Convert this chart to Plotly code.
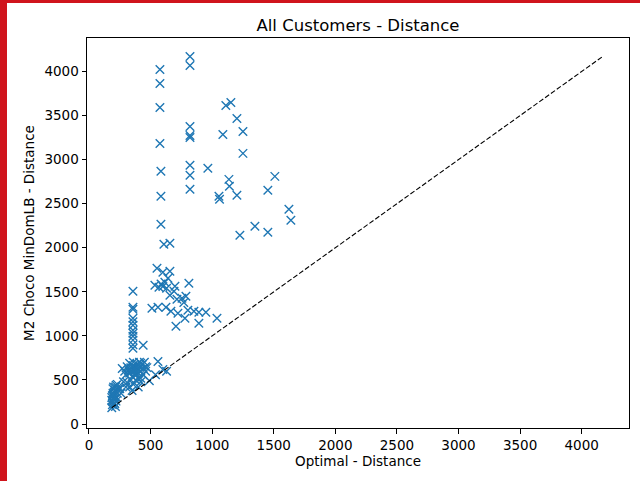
import plotly.graph_objects as go

# Optimal distance (x) vs M2 Choco MinDomLB distance (y)
opt_dist = [
    # lower-left cluster
    185, 190, 195, 200, 185, 190, 200, 205, 210, 195, 215, 220, 190, 210, 225,
    230, 200, 185, 215, 205, 195, 220, 240, 230, 210, 195, 205,
    # cluster 250-560
    270, 290, 300, 310, 320, 330, 340, 350, 360, 370, 380, 390, 400, 410, 420,
    430, 440, 450, 360, 330, 380, 350, 400, 420, 460, 470, 310, 330, 350, 360,
    380, 400, 420, 440, 490, 540, 560, 300, 280, 250, 260, 420, 400, 460, 340,
    370, 390, 355, 345, 410, 630, 600,
    # column at ~357
    357, 357, 357, 357, 357, 357, 357, 357, 357, 357, 357, 357, 440,
    # middle cluster
    608, 657, 552, 600, 657, 641, 616, 535, 568, 811, 698, 690, 657, 714, 755,
    787, 511, 560, 625, 665, 722, 803, 852, 892, 949, 706, 892, 1039, 779, 600,
    585, 630, 770,
    # upper points
    576, 576, 576, 576, 820, 820, 584, 584, 584, 820, 820, 820, 820, 820, 820,
    965, 1087, 1111, 1152, 1201, 1250, 1250, 1136, 1140, 1055, 1060, 1201,
    1225, 1347, 1452, 1452, 1509, 1623, 1639,
]
m2_dist = [
    185, 220, 250, 280, 300, 320, 340, 360, 380, 400, 420, 440, 260, 230, 300,
    350, 420, 270, 200, 310, 350, 260, 400, 450, 290, 330, 240,
    630, 600, 560, 650, 610, 580, 640, 620, 660, 600, 640, 680, 620, 650, 600,
    670, 630, 700, 700, 690, 560, 540, 580, 690, 650, 640, 470, 420, 380, 450,
    500, 520, 520, 560, 490, 560, 710, 420, 480, 400, 350, 480, 420, 600, 500,
    620, 590, 660, 600, 700, 600, 620,
    1507, 1326, 1303, 1201, 1160, 1122, 1065, 1031, 997, 952, 900, 861, 895,
    2040, 2051, 1768, 1722, 1734, 1654, 1609, 1575, 1552, 1598, 1564, 1507,
    1462, 1416, 1428, 1450, 1314, 1326, 1326, 1280, 1258, 1292, 1280, 1269,
    1269, 1110, 1144, 1201, 1201, 1560, 1590, 1540, 1380,
    4023, 3864, 3592, 3184, 4170, 4068, 2867, 2584, 2266, 3377, 3275, 3252,
    2935, 2822, 2663, 2901, 3286, 3615, 3649, 3467, 3320, 3071, 2776, 2697,
    2584, 2550, 2595, 2142, 2244, 2176, 2652, 2810, 2436, 2312,
]

line_lo = min(min(opt_dist), min(m2_dist))
line_hi = max(max(opt_dist), max(m2_dist))

title = "All Customers - Distance"
x_label = "Optimal - Distance"
y_label = "M2 Choco MinDomLB - Distance"
tick_vals = [0, 500, 1000, 1500, 2000, 2500, 3000, 3500, 4000]

FONT = "DejaVu Sans"
W, H = 640, 481
L, R, T, B = 87, 11, 38, 53
pw, ph = W - L - R, H - T - B

fig = go.Figure()
fig.add_trace(go.Scatter(
    x=opt_dist, y=m2_dist, mode="markers",
    marker=dict(symbol="x-thin", size=8.5, color="#1f77b4",
                line=dict(color="#1f77b4", width=1.4)),
    showlegend=False, hoverinfo="skip"))
fig.add_trace(go.Scatter(
    x=[line_lo, line_hi], y=[line_lo, line_hi], mode="lines",
    line=dict(color="black", width=1.1, dash="5px,2.2px"),
    showlegend=False, hoverinfo="skip"))

axis_common = dict(
    showgrid=False, zeroline=False, showline=True, linecolor="black",
    linewidth=1, mirror=True, ticks="outside", ticklen=4.5, tickwidth=1,
    tickcolor="black", tickvals=tick_vals,
    tickfont=dict(family=FONT, size=13.5, color="black"),
)

fig.update_layout(
    width=W, height=H,
    margin=dict(l=L, r=R, t=T, b=B, pad=0),
    paper_bgcolor="white", plot_bgcolor="white",
    font=dict(family=FONT, color="black"),
    title=dict(text=title, x=(L + pw / 2) / W, xanchor="center",
               y=1 - 25 / H, yanchor="middle", yref="container",
               font=dict(family=FONT, size=16.5, color="black")),
    xaxis=dict(range=[-16, 4384],
               title=dict(text=x_label, standoff=4,
                          font=dict(family=FONT, size=13.5, color="black")),
               **axis_common),
    yaxis=dict(range=[-45, 4380],
               title=dict(text=y_label, standoff=6,
                          font=dict(family=FONT, size=13.5, color="black")),
               **axis_common),
)

# red frame strips on the left and top of the image
red = "#d0141c"
fig.add_shape(type="rect", xref="paper", yref="paper",
              x0=-L / pw, x1=(7 - L) / pw, y0=-B / ph, y1=1 + T / ph,
              fillcolor=red, line=dict(width=0), layer="above")
fig.add_shape(type="rect", xref="paper", yref="paper",
              x0=-L / pw, x1=1 + R / pw, y0=1 + (T - 3) / ph, y1=1 + T / ph,
              fillcolor=red, line=dict(width=0), layer="above")

fig.write_html("out.html", config={"displayModeBar": False},
               post_script="document.body.style.margin='0';document.body.style.overflow='hidden';")
